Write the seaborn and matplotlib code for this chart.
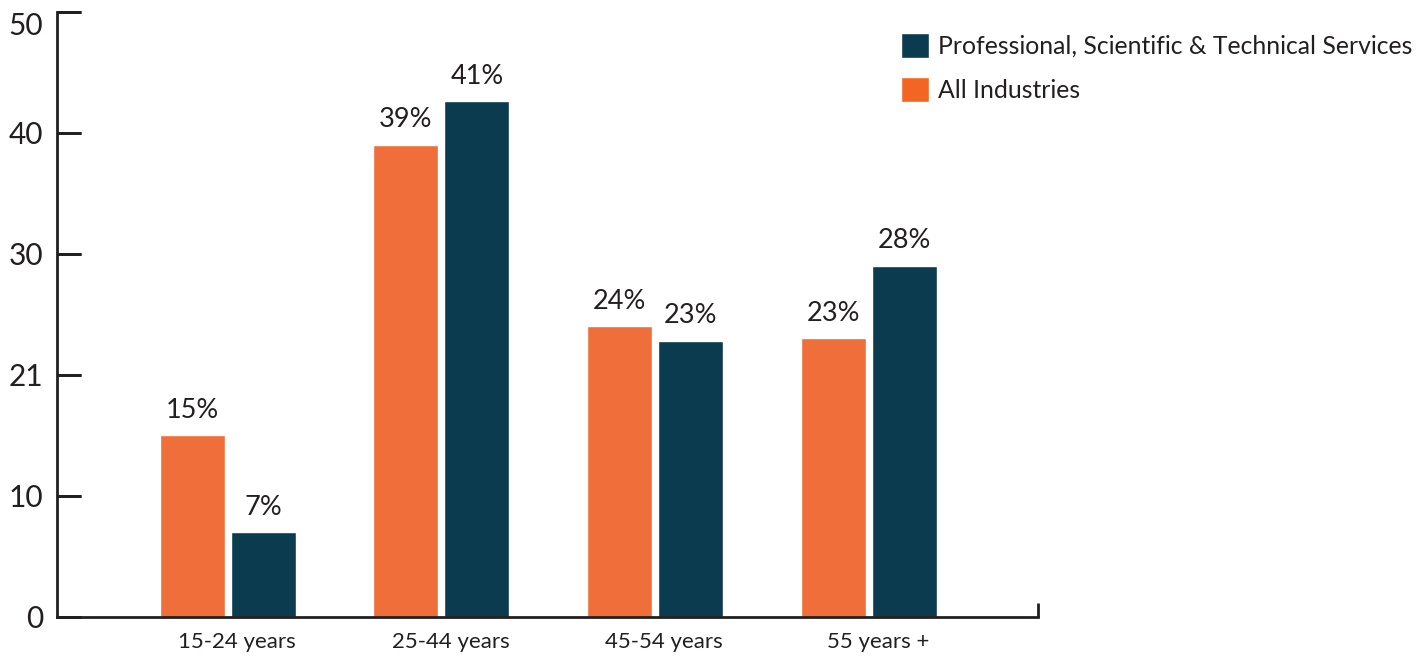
import matplotlib
matplotlib.use("Agg")
import pandas as pd
import matplotlib.pyplot as plt
import matplotlib.transforms as mtransforms
from matplotlib.lines import Line2D
from matplotlib.patches import Patch
import seaborn as sns

# values
age_groups = ["15-24 years", "25-44 years", "45-54 years", "55 years +"]
all_industries = [15, 39, 24, 23]
prof_services = [7, 42.6, 22.8, 29]
all_labels = ["15%", "39%", "24%", "23%"]
prof_labels = ["7%", "41%", "23%", "28%"]
series_names = ["All Industries", "Professional, Scientific & Technical Services"]
ytick_values = [0, 10, 20, 30, 40, 50]
ytick_labels = ["0", "10", "21", "30", "40", "50"]

ORANGE = "#F06E3A"
ORANGE_KEY = "#F26522"
NAVY = "#0A3B4F"
INK = "#231F20"

df = pd.DataFrame({
    "age": age_groups * 2,
    "share": all_industries + prof_services,
    "series": [series_names[0]] * len(age_groups) + [series_names[1]] * len(age_groups),
})

sns.set_theme(style="white")
plt.rcParams["font.family"] = ["Lato", "DejaVu Sans"]
plt.rcParams["text.color"] = INK

fig = plt.figure(figsize=(14.26, 6.56), dpi=100)
ax = fig.add_axes([0.0403, 0.0599, 0.6876, 0.9223])

sns.barplot(data=df, x="age", y="share", hue="series", hue_order=series_names,
            palette=[ORANGE, NAVY], width=0.664, gap=0.085, saturation=1,
            errorbar=None, legend=False, ax=ax)

# value labels (printed labels differ from bar heights in the source)
for cont, labs in zip(ax.containers, [all_labels, prof_labels]):
    ax.bar_label(cont, labels=labs, padding=9, fontsize=19.5, color=INK)

ax.set_xlim(-0.795, 3.789)
ax.set_ylim(0, 50)
ax.set_xlabel("")
ax.set_ylabel("")

sns.despine(ax=ax)
for side in ["left", "bottom"]:
    ax.spines[side].set_linewidth(2)
    ax.spines[side].set_color(INK)

ax.set_yticks(ytick_values)
ax.set_yticklabels(ytick_labels)
ax.tick_params(axis="y", left=True, direction="in", length=17, width=2, color=INK,
               pad=10.5, labelsize=21.5, labelcolor=INK)
ax.get_yticklabels()[-1].set_va("top")
ax.tick_params(axis="x", which="major", bottom=True, length=0, pad=11,
               labelsize=16, labelcolor=INK)
# category labels sit a little right of the bar groups in the source
shift = mtransforms.ScaledTranslation(9 / 100, 0, fig.dpi_scale_trans)
for lab in ax.get_xticklabels():
    lab.set_transform(lab.get_transform() + shift)

# small upward tick closing the x axis on the right
ax.set_xticks([3.789], minor=True)
ax.tick_params(axis="x", which="minor", bottom=True, direction="in", length=10,
               width=2, color=INK)

# inward y ticks, added on top of everything through the y-axis transform
tick_frac = 17 / 72 * fig.dpi / (ax.get_position().width * fig.bbox.width)
ytrans = ax.get_yaxis_transform()
for yv in ytick_values:
    fig.add_artist(Line2D([0, tick_frac], [yv, yv], transform=ytrans, color=INK,
                          linewidth=2, solid_capstyle="butt", zorder=20))

handles = [Patch(facecolor=NAVY), Patch(facecolor=ORANGE_KEY)]
fig.legend(handles, [series_names[1], series_names[0]], loc="upper left",
           bbox_to_anchor=(901 / 1426, 1 - 33 / 656), frameon=False, fontsize=17.8,
           handlelength=1.15, handleheight=1.15, handletextpad=0.35,
           labelspacing=0.8, borderpad=0, borderaxespad=0)

fig.savefig("out.png", dpi=100)
